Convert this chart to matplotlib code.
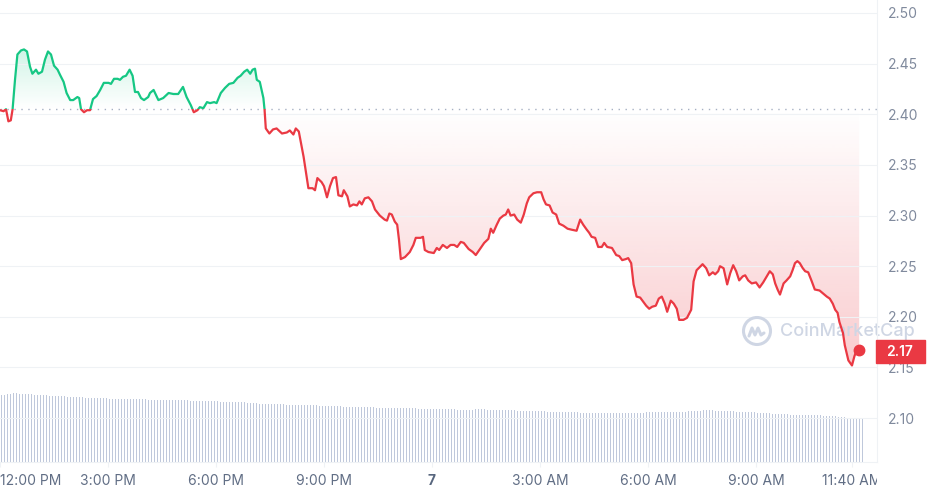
import numpy as np
import matplotlib.pyplot as plt
from matplotlib.colors import to_rgb
from matplotlib.patches import Rectangle, Circle
from matplotlib.path import Path
from matplotlib.transforms import Bbox, TransformedBbox

plt.rcParams['font.family'] = ['Inter', 'DejaVu Sans']

# minutes after 12:00 PM, price in USD
minutes = [0, 6, 10, 14, 18, 21, 25, 29, 35, 40, 45, 50, 54, 60, 64, 70, 75, 80, 85, 90,
           96, 100, 106, 111, 117, 122, 129, 132, 135, 140, 145, 150, 155, 161, 167, 173, 181, 185, 190, 196,
           200, 205, 210, 216, 221, 225, 230, 235, 240, 247,
           250, 256, 264, 272, 281, 289, 297, 305, 311, 318, 323, 329, 333, 339, 345, 350, 357, 361, 368, 375,
           382, 389, 396, 401, 407, 412, 417, 421, 425, 428, 433, 439, 441, 443, 449, 455, 461, 470, 478, 483,
           489, 493, 498,
           506, 514, 521, 525, 529, 536, 540, 545, 550, 555, 560, 564, 570, 573, 579, 583, 589, 595, 599, 603,
           608, 614, 620, 625, 633, 641, 645, 649, 653, 658, 662, 665, 668, 675, 683, 689, 693, 701, 705, 708,
           714, 723, 728, 732,
           738, 745, 751, 757, 762, 768, 773, 781, 788, 793, 800, 807, 814, 818, 822, 828, 833, 839, 843, 847,
           851, 857, 862, 868, 873, 878, 882, 889, 895, 902, 906, 910, 916, 921, 927, 932, 939, 946, 953, 961,
           967, 972, 978, 982,
           986, 992, 997, 1003, 1007, 1012, 1020, 1027, 1032, 1037, 1043, 1047, 1052, 1056, 1061, 1067, 1072,
           1077, 1082, 1087, 1093, 1098, 1103, 1108, 1112, 1118, 1123, 1128, 1132, 1139, 1145, 1152, 1156,
           1161, 1166, 1171, 1177, 1182, 1188, 1192, 1197,
           1200, 1206, 1212, 1217, 1222, 1227, 1232, 1238, 1242, 1247, 1253, 1260, 1266, 1272, 1278, 1283,
           1288, 1292, 1296, 1300, 1306, 1311, 1317, 1321, 1325, 1329, 1333, 1338, 1342, 1347, 1353, 1358,
           1366, 1372, 1378, 1383, 1388, 1392, 1396, 1399, 1405, 1408, 1414, 1420, 1424, 1427, 1432]
prices = [2.404, 2.403, 2.405, 2.393, 2.394, 2.405, 2.434, 2.459, 2.463, 2.464,
          2.462, 2.447, 2.440, 2.444, 2.440, 2.442, 2.454, 2.462, 2.459, 2.448,
          2.444, 2.439, 2.432, 2.421, 2.414, 2.414, 2.417, 2.416, 2.405, 2.402,
          2.404, 2.404, 2.415, 2.418, 2.424, 2.431, 2.431, 2.430, 2.435, 2.435,
          2.434, 2.437, 2.438, 2.444, 2.438, 2.422, 2.422, 2.416, 2.414, 2.417,
          2.421, 2.424, 2.414, 2.416, 2.421, 2.420, 2.420, 2.427, 2.417, 2.409,
          2.402, 2.404, 2.407, 2.406, 2.412, 2.411, 2.412, 2.411, 2.421, 2.426,
          2.430, 2.431, 2.436, 2.438, 2.442, 2.444, 2.440, 2.444, 2.445, 2.434,
          2.432, 2.416, 2.404, 2.386, 2.381, 2.385, 2.386, 2.381, 2.382, 2.384,
          2.380, 2.386, 2.383,
          2.358, 2.327, 2.327, 2.325, 2.337, 2.333, 2.329, 2.318, 2.329, 2.337,
          2.338, 2.320, 2.319, 2.325, 2.319, 2.309, 2.311, 2.310, 2.314, 2.311,
          2.317, 2.318, 2.314, 2.306, 2.300, 2.296, 2.295, 2.302, 2.301, 2.294,
          2.291, 2.276, 2.257, 2.259, 2.264, 2.271, 2.278, 2.278, 2.279, 2.266,
          2.264, 2.263, 2.268, 2.266,
          2.271, 2.268, 2.271, 2.271, 2.269, 2.274, 2.273, 2.267, 2.264, 2.261,
          2.267, 2.273, 2.277, 2.287, 2.283, 2.291, 2.297, 2.300, 2.301, 2.306,
          2.300, 2.301, 2.296, 2.293, 2.301, 2.312, 2.318, 2.322, 2.323, 2.323,
          2.316, 2.311, 2.310, 2.303, 2.301, 2.292, 2.290, 2.287, 2.286, 2.285,
          2.296, 2.291, 2.286, 2.283,
          2.279, 2.278, 2.269, 2.269, 2.273, 2.269, 2.268, 2.261, 2.260, 2.256,
          2.257, 2.258, 2.253, 2.232, 2.220, 2.219, 2.215, 2.211, 2.208, 2.210,
          2.211, 2.218, 2.220, 2.213, 2.205, 2.216, 2.213, 2.208, 2.197, 2.197,
          2.199, 2.207, 2.235, 2.246, 2.249, 2.252, 2.248, 2.241, 2.244, 2.242,
          2.245,
          2.250, 2.248, 2.232, 2.243, 2.251, 2.245, 2.236, 2.240, 2.241, 2.236,
          2.233, 2.234, 2.229, 2.234, 2.240, 2.245, 2.242, 2.233, 2.227, 2.222,
          2.233, 2.236, 2.240, 2.246, 2.253, 2.255, 2.253, 2.248, 2.245, 2.244,
          2.235, 2.227, 2.226, 2.223, 2.220, 2.218, 2.213, 2.207, 2.204, 2.195,
          2.184, 2.172, 2.157, 2.152, 2.161, 2.166, 2.167]
baseline = 2.4056  # open price (dotted line)

# 24h volume, billions USD, one bar per 5 minutes (one row per hour)
volume = [
    6.70, 6.75, 6.80, 6.85, 6.87, 6.87, 6.85, 6.84, 6.82, 6.80, 6.78, 6.75,
    6.72, 6.70, 6.68, 6.66, 6.64, 6.62, 6.60, 6.59, 6.58, 6.56, 6.55, 6.53,
    6.52, 6.50, 6.49, 6.47, 6.45, 6.44, 6.43, 6.41, 6.40, 6.38, 6.37, 6.36,
    6.35, 6.34, 6.33, 6.32, 6.31, 6.30, 6.30, 6.29, 6.28, 6.27, 6.27, 6.26,
    6.26, 6.25, 6.25, 6.24, 6.23, 6.23, 6.22, 6.22, 6.21, 6.20, 6.20, 6.19,
    6.18, 6.17, 6.16, 6.15, 6.14, 6.13, 6.13, 6.12, 6.11, 6.10, 6.09, 6.08,
    6.07, 6.05, 6.04, 6.02, 6.01, 6.00, 5.99, 5.98, 5.97, 5.96, 5.95, 5.94,
    5.93, 5.90, 5.85, 5.80, 5.79, 5.79, 5.78, 5.78, 5.77, 5.77, 5.76, 5.75,
    5.75, 5.74, 5.73, 5.73, 5.72, 5.71, 5.70, 5.69, 5.67, 5.66, 5.65, 5.63,
    5.62, 5.61, 5.60, 5.59, 5.58, 5.56, 5.55, 5.54, 5.53, 5.52, 5.51, 5.50,
    5.49, 5.48, 5.47, 5.46, 5.46, 5.45, 5.44, 5.43, 5.42, 5.41, 5.40, 5.40,
    5.40, 5.39, 5.39, 5.38, 5.37, 5.37, 5.36, 5.35, 5.35, 5.34, 5.34, 5.33,
    5.33, 5.32, 5.31, 5.30, 5.29, 5.28, 5.27, 5.26, 5.24, 5.22, 5.21, 5.20,
    5.22, 5.24, 5.26, 5.27, 5.27, 5.26, 5.25, 5.24, 5.23, 5.22, 5.21, 5.20,
    5.19, 5.18, 5.17, 5.16, 5.15, 5.14, 5.13, 5.12, 5.11, 5.10, 5.09, 5.08,
    5.07, 5.06, 5.05, 5.04, 5.03, 5.02, 5.02, 5.01, 5.00, 4.99, 4.98, 4.97,
    4.96, 4.95, 4.94, 4.93, 4.92, 4.92, 4.91, 4.90, 4.89, 4.89, 4.88, 4.88,
    4.87, 4.87, 4.87, 4.88, 4.89, 4.90, 4.91, 4.92, 4.93, 4.94, 4.95, 4.96,
    4.97, 4.98, 4.98, 4.99, 4.99, 5.00, 5.00, 5.01, 5.02, 5.03, 5.03, 5.04,
    5.05, 5.07, 5.09, 5.11, 5.13, 5.15, 5.16, 5.17, 5.17, 5.16, 5.15, 5.13,
    5.11, 5.10, 5.08, 5.07, 5.06, 5.05, 5.04, 5.03, 5.02, 5.01, 5.00, 4.98,
    4.95, 4.93, 4.91, 4.89, 4.87, 4.85, 4.83, 4.81, 4.79, 4.77, 4.76, 4.75,
    4.73, 4.72, 4.71, 4.70, 4.70, 4.69, 4.69, 4.68, 4.67, 4.66, 4.65, 4.64,
    4.62, 4.60, 4.57, 4.54, 4.50, 4.47, 4.45, 4.43, 4.41, 4.39, 4.38, 4.37]
vol_minutes = np.arange(len(volume)) * 5 + 2

tick_minutes = [0, 180, 360, 540, 720, 900, 1080, 1260, 1420]
tick_labels = ['12:00 PM', '3:00 PM', '6:00 PM', '9:00 PM', '7',
               '3:00 AM', '6:00 AM', '9:00 AM', '11:40 AM']
price_ticks = [2.10, 2.15, 2.20, 2.25, 2.30, 2.35, 2.40, 2.45, 2.50]

GREEN = '#16c784'
RED = '#ea3943'
GRID = '#eff2f5'
XMAX = 1461.7
YLO, YHI = 2.0567, 2.5128

fig = plt.figure(figsize=(9.28, 4.95), dpi=100)
pos = [0, 33 / 495, 877 / 928, 462 / 495]

# volume bars underneath
ax_vol = fig.add_axes(pos)
ax_vol.bar(vol_minutes, volume, width=1.7, color='#bfc8db', linewidth=0)
ax_vol.set_xlim(0, XMAX)
ax_vol.set_ylim(0, 46.2)
ax_vol.axis('off')

ax = fig.add_axes(pos)
ax.patch.set_visible(False)

t = np.array(minutes, dtype=float)
p = np.array(prices)

# gradient fills, clipped to the area between line and baseline
up = ax.fill_between(t, p, baseline, where=p >= baseline, interpolate=True, color='none', lw=0)
dn = ax.fill_between(t, p, baseline, where=p <= baseline, interpolate=True, color='none', lw=0)
ys = np.linspace(YLO, YHI, 500)
for coll, col, alpha in [(up, GREEN, 0.20 * np.clip((ys - baseline) / (2.465 - baseline), 0, 1)),
                         (dn, RED, 0.26 * np.clip((baseline - ys) / (baseline - 2.15), 0, 1))]:
    img = np.zeros((len(ys), 1, 4))
    img[..., :3] = to_rgb(col)
    img[:, 0, 3] = alpha
    im = ax.imshow(img, extent=[0, XMAX, YLO, YHI], origin='lower', aspect='auto',
                   interpolation='bilinear', zorder=1)
    im.set_clip_path(Path.make_compound_path(*coll.get_paths()), transform=ax.transData)

# price line, green above the open and red below
for lo, hi, col in [(baseline, 3.0, GREEN), (0.0, baseline, RED)]:
    ln, = ax.plot(t, p, color=col, lw=1.6, solid_joinstyle='round', zorder=3)
    ln.set_clip_path(Rectangle((-100, lo), XMAX + 200, hi - lo, transform=ax.transData))
ax.plot(t[-1], p[-1], 'o', ms=7.5, color=RED, zorder=4)

ax.axhline(baseline, color='#a6b0c3', lw=1, ls=(0, (1, 4)), zorder=2)

ax.set_xlim(0, XMAX)
ax.set_ylim(YLO, YHI)
ax.set_yticks(price_ticks, ['%.2f' % v for v in price_ticks])
ax.set_xticks(tick_minutes, tick_labels)
ax.yaxis.tick_right()
ax.grid(axis='y', color=GRID, lw=0.8, zorder=0)
ax.grid(axis='x', visible=False)
for s in ['top', 'left']:
    ax.spines[s].set_visible(False)
for s in ['right', 'bottom']:
    ax.spines[s].set_color(GRID)
    ax.spines[s].set_linewidth(0.8)
ax.tick_params(axis='y', length=0, pad=8, labelsize=10, labelcolor='#808a9d')
ax.tick_params(axis='x', length=3.6, width=0.8, color=GRID, pad=5, labelsize=10, labelcolor='#616e85')

xlabels = ax.get_xticklabels()
xlabels[0].set_horizontalalignment('left')
xlabels[4].set_fontweight('bold')
xlabels[4].set_color('#58667e')
xlabels[-1].set_clip_on(True)
xlabels[-1].set_clip_box(TransformedBbox(Bbox([[0, 0], [877 / 928, 1]]), fig.transFigure))

# current price tag
fig.add_artist(Rectangle((876 / 928, 132 / 495), 49 / 928, 23 / 495,
                         transform=fig.transFigure, color=RED, zorder=5))
fig.text(900 / 928, 143.5 / 495, '%.2f' % prices[-1], color='white', fontsize=10,
         fontweight='semibold', ha='center', va='center', zorder=6)

# CoinMarketCap watermark
WM = '#cfd6e4'
ax.text(780 / 928, 164 / 495, 'CoinMarketCap', transform=fig.transFigure, fontsize=13,
        color=WM, ha='left', va='center', fontweight='medium', zorder=2.5, clip_on=False)
ax.add_patch(Circle((7.57, 1.64), 0.135, transform=fig.dpi_scale_trans, fill=False,
                    ec=WM, lw=2.2, zorder=2.5, clip_on=False))
ax.plot([7.49, 7.52, 7.55, 7.58, 7.61, 7.64], [1.59, 1.67, 1.60, 1.67, 1.60, 1.62],
        transform=fig.dpi_scale_trans, color=WM, lw=2.2, zorder=2.5, clip_on=False,
        solid_joinstyle='round', solid_capstyle='round')

fig.savefig('out.png', dpi=100)
